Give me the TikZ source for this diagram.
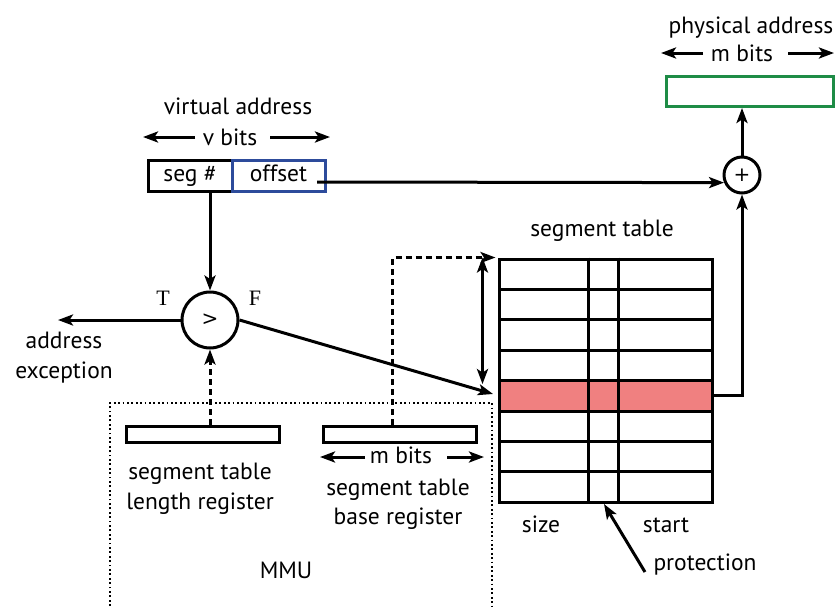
\documentclass[tikz,border=0pt]{standalone}
\usepackage{fontspec}
\setmainfont{PT Sans}
\newfontfamily\tfont{Liberation Serif}
\newfontfamily\symfont{DejaVu Sans}
\usetikzlibrary{arrows.meta}
\definecolor{vblue}{RGB}{45,75,155}
\definecolor{pgreen}{RGB}{30,140,70}
\definecolor{rowred}{RGB}{240,128,128}
\begin{document}
\begin{tikzpicture}[x=1pt,y=-1pt,
  font=\fontsize{23.5}{28}\selectfont,
  ln/.style={line width=3pt},
  arr/.style={ln,-{Stealth[length=15pt,width=11pt,inset=3.5pt]}},
  dash1/.style={dash pattern=on 6pt off 4pt},
  dot1/.style={line width=1.8pt,dash pattern=on 1.8pt off 2.6pt},
  lbl/.style={inner sep=0pt,anchor=base},
  regbox/.style={draw,ln,minimum width=153pt,minimum height=16pt,inner sep=0pt},
  rowbox/.style={draw,ln,minimum width=213pt,minimum height=30.4pt,inner sep=0pt},
  fieldbox/.style={draw,ln,minimum height=31pt,inner sep=0pt,text height=16pt,text depth=5pt}
]
\useasboundingbox (0,0) rectangle (835,606);

% MMU dotted region
\draw[dot1] (110,606) -- (110,403) -- (492,403) -- (492,606);
\node[lbl] (mmu) at (286,578) {MMU};

% virtual address
\node[lbl] (va) at (238,114) {virtual address};
\node[lbl] (vb) at (230,145) {v bits};
\coordinate (vbL) at (143,137);
\coordinate (vbLs) at (195,137);
\coordinate (vbR) at (330,137);
\coordinate (vbRs) at (270,137);
\draw[arr] (vbLs) -- (vbL);
\draw[arr] (vbRs) -- (vbR);
\node[fieldbox,minimum width=84pt] (seg) at (190,175.5) {seg \#};
\node[fieldbox,draw=vblue,minimum width=93pt] (off) at (278.5,175.5) {offset};

% physical address
\node[lbl] (pa) at (751,33) {physical address};
\node[lbl] (pb) at (742,61) {m bits};
\coordinate (pbL) at (661,53);
\coordinate (pbLs) at (703,53);
\coordinate (pbR) at (834,53);
\coordinate (pbRs) at (788,53);
\draw[arr] (pbLs) -- (pbL);
\draw[arr] (pbRs) -- (pbR);
\node[draw=pgreen,line width=3pt,minimum width=167pt,minimum height=30pt,inner sep=0pt] (phys) at (749.5,91.5) {};

% adder
\node[draw,ln,circle,minimum size=36pt,inner sep=0pt,font=\symfont\fontsize{20}{20}\selectfont] (plus) at (742,175) {+};

% comparator
\node[draw,ln,circle,minimum size=56pt,inner sep=0pt,font=\symfont\fontsize{20}{20}\selectfont] (cmp) at (210,320) {>};
\node[lbl,font=\tfont\fontsize{22}{26}\selectfont] (T) at (163,305) {T};
\node[lbl,font=\tfont\fontsize{22}{26}\selectfont] (F) at (255,305) {F};
\node[inner sep=0pt,align=center,font=\fontsize{23.5}{30}\selectfont] (exctext) at (64,358) {address\\exception};
\coordinate (exc) at (58,320);
\coordinate (fin) at (493,394);

% registers
\node[regbox] (len) at (202.5,434) {};
\node[regbox] (base) at (399.5,434) {};
\node[lbl,align=center,font=\fontsize{23.5}{30}\selectfont] (lentext) at (200,509) {segment table\\length register};
\node[lbl,align=center,font=\fontsize{23.5}{29}\selectfont] (basetext) at (398,524) {segment table\\base register};
\node[lbl] (mb) at (401,463) {m bits};
\coordinate (mbL) at (320,457);
\coordinate (mbLs) at (365,457);
\coordinate (mbR) at (484,457);
\coordinate (mbRs) at (447,457);
\draw[arr] (mbLs) -- (mbL);
\draw[arr] (mbRs) -- (mbR);

% segment table
\node[lbl] (sttext) at (602,236) {segment table};
\node[rowbox] (r0) at (605.5,274.2) {};
\node[rowbox] (r1) at (605.5,304.6) {};
\node[rowbox] (r2) at (605.5,335.0) {};
\node[rowbox] (r3) at (605.5,365.4) {};
\node[rowbox,fill=rowred] (r4) at (605.5,395.8) {};
\node[rowbox] (r5) at (605.5,426.2) {};
\node[rowbox] (r6) at (605.5,456.6) {};
\node[rowbox] (r7) at (605.5,487.0) {};
\draw[ln] ([xshift=91pt]r0.north west) -- ([xshift=91pt]r7.south west);
\draw[ln] ([xshift=121pt]r0.north west) -- ([xshift=121pt]r7.south west);
\node[lbl] (size) at (541,532) {size};
\node[lbl] (start) at (666,532) {start};
\node[lbl] (prot) at (705,570) {protection};
\coordinate (ptail) at (645,572);
\coordinate (phead) at (604,504);

% connectors
\draw[arr] (317,182) coordinate (offst) -- (plus.203);
\draw[arr] (plus.north) -- (plus.north |- phys.south);
\draw[arr] (r4.east) -| (plus.south);
\draw[arr] (cmp.north |- seg.south) -- (cmp.north);
\draw[arr] (cmp.west) -- (exc);
\draw[arr] (cmp.east) -- (fin);
\draw[arr,dash1] (cmp.south |- len.north) -- (cmp.south);
\draw[arr,dash1] ([xshift=-7pt]base.north) |- ([xshift=-2pt]r0.north west);
\draw[ln,{Stealth[length=15pt,width=11pt,inset=3.5pt]}-{Stealth[length=15pt,width=11pt,inset=3.5pt]}] ([xshift=-15pt]r0.north west) -- ([xshift=-15pt,yshift=-5pt]r4.north west);
\draw[arr] (ptail) -- (phead);
\end{tikzpicture}
\end{document}
